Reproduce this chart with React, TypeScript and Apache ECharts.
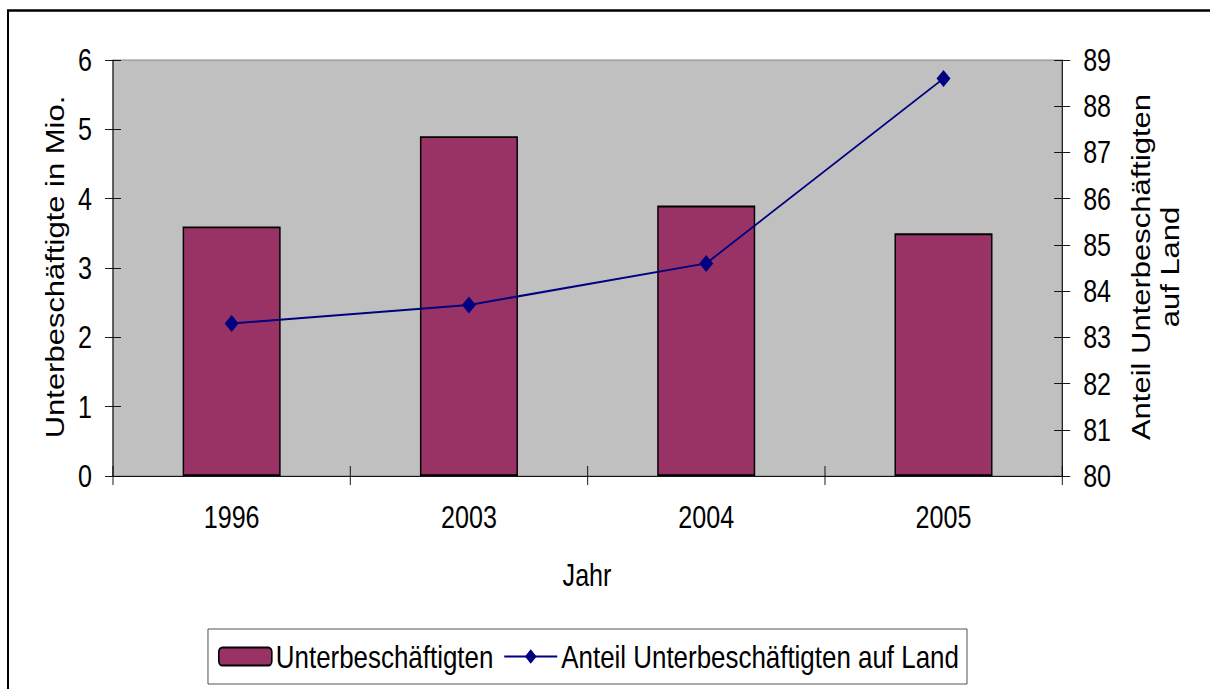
import React, { useEffect, useRef } from "react";
import * as echarts from "echarts";

const categories = ["1996", "2003", "2004", "2005"];
const underemployed = [3.6, 4.9, 3.9, 3.5];
const shareRural = [83.3, 83.7, 84.6, 88.6];

const FONT = "'Liberation Sans', Arial, sans-serif";
const FS = 31;
// horizontal condensation of the whole picture (the reference is drawn narrow)
const S = 0.81;
const W = 1210 / S;
const X = (px: number) => px / S;

export default function App() {
  const ref = useRef<HTMLDivElement>(null);
  useEffect(() => {
    if (!ref.current) return;
    const chart = echarts.init(ref.current, undefined, { renderer: "svg" });
    const label = { color: "#000", fontFamily: FONT, fontSize: FS };
    chart.setOption({
      animation: false,
      backgroundColor: "#fff",
      grid: {
        left: X(113), right: X(148), top: 60, bottom: 213,
        show: true, backgroundColor: "#C0C0C0", borderColor: "#808080", borderWidth: 1,
      },
      legend: {
        left: X(208), top: 629,
        orient: "horizontal",
        padding: [11.5, X(8), 11.5, X(10)],
        itemWidth: X(53), itemHeight: 18, itemGap: X(10),
        borderColor: "#404040", borderWidth: 1,
        textStyle: { ...label, fontSize: 32 },
        data: ["Unterbeschäftigten", "Anteil Unterbeschäftigten auf Land"],
      },
      xAxis: [
        {
          type: "category", data: categories, gridIndex: 0,
          axisLine: { lineStyle: { color: "#000", width: 1 } },
          axisTick: { show: true, length: 9, lineStyle: { color: "#000" } },
          axisLabel: { ...label, margin: 26 },
          splitLine: { show: false },
        },
        {
          type: "category", data: categories, gridIndex: 0, position: "bottom",
          axisLine: { show: false },
          axisTick: { show: true, inside: true, length: 10, lineStyle: { color: "#000" } },
          axisLabel: { show: false },
          splitLine: { show: false },
        },
      ],
      yAxis: [
        {
          type: "value", min: 0, max: 6, interval: 1, position: "left",
          axisLine: { show: true, lineStyle: { color: "#000", width: 1.2 } },
          axisTick: { show: true, length: X(8), lineStyle: { color: "#000" } },
          axisLabel: { ...label, margin: X(21) },
          splitLine: { show: false },
        },
        {
          type: "value", min: 80, max: 89, interval: 1, position: "right",
          axisLine: { show: true, lineStyle: { color: "#000", width: 1.2 } },
          axisTick: { show: true, length: X(8), lineStyle: { color: "#000" } },
          axisLabel: { ...label, margin: X(21) },
          splitLine: { show: false },
        },
        {
          type: "value", min: 0, max: 6, interval: 1, position: "left",
          axisLine: { show: false },
          axisTick: { show: true, inside: true, length: X(8), lineStyle: { color: "#000" } },
          axisLabel: { show: false },
          splitLine: { show: false },
        },
        {
          type: "value", min: 80, max: 89, interval: 1, position: "right",
          axisLine: { show: false },
          axisTick: { show: true, inside: true, length: X(8), lineStyle: { color: "#000" } },
          axisLabel: { show: false },
          splitLine: { show: false },
        },
      ],
      series: [
        {
          name: "Unterbeschäftigten",
          type: "bar",
          data: underemployed,
          xAxisIndex: 0, yAxisIndex: 0,
          barWidth: "41.3%",
          itemStyle: { color: "#993366", borderColor: "#000", borderWidth: 1.8 },
        },
        {
          name: "Anteil Unterbeschäftigten auf Land",
          type: "line",
          data: shareRural,
          xAxisIndex: 0, yAxisIndex: 1,
          symbol: "diamond",
          symbolSize: [X(14), 17],
          itemStyle: { color: "#000080" },
          lineStyle: { color: "#000080", width: 2 },
          z: 5,
        },
      ],
      graphic: [
        {
          type: "rect", silent: true, z: -1,
          shape: { x: X(8), y: 10.5, width: 2000, height: 900 },
          style: { fill: "none", stroke: "#000", lineWidth: 2.5 },
        },
        {
          type: "text", x: X(55), y: 267, rotation: Math.PI / 2,
          style: {
            text: "Unterbeschäftigte in Mio.", font: `${FS}px ${FONT}`,
            fill: "#000", textAlign: "center", textVerticalAlign: "middle",
          },
        },
        {
          type: "text", x: X(1156), y: 267, rotation: Math.PI / 2,
          style: {
            text: "Anteil Unterbeschäftigten\nauf Land", font: `${FS}px ${FONT}`,
            fill: "#000", textAlign: "center", textVerticalAlign: "middle", lineHeight: 36,
          },
        },
        {
          type: "text", x: X(587), y: 575,
          style: {
            text: "Jahr", font: `${FS}px ${FONT}`,
            fill: "#000", textAlign: "center", textVerticalAlign: "middle",
          },
        },
      ],
    });
    return () => chart.dispose();
  }, []);
  return (
    <div style={{ position: "absolute", left: 0, top: 0, width: 1210, height: 689, overflow: "hidden" }}>
      <div
        ref={ref}
        style={{
          width: W, height: 689,
          transform: `scaleX(${S})`, transformOrigin: "0 0",
        }}
      />
    </div>
  );
}
